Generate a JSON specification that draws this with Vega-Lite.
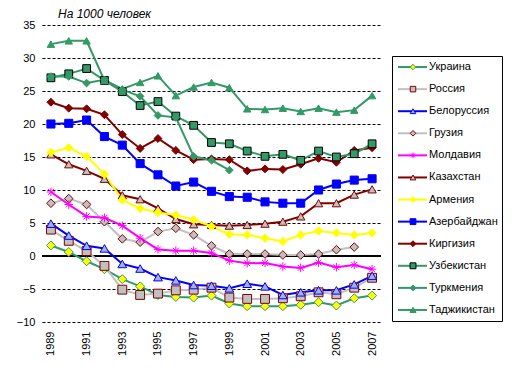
{
  "$schema": "https://vega.github.io/schema/vega-lite/v6.json",
  "background": "white",
  "padding": {"left": 16, "top": 8, "right": 5, "bottom": 5},
  "config": {
    "font": "Liberation Sans",
    "view": {"stroke": null},
    "axis": {"labelFont": "Liberation Sans", "labelFontSize": 11, "labelColor": "black"}
  },
  "spacing": 9,
  "resolve": {"scale": {"x": "independent", "y": "independent", "color": "independent", "shape": "independent", "fill": "independent", "stroke": "independent", "size": "independent"}},
  "datasets": {
    "d": [
      {"s": "Украина", "y": 1989, "v": 1.6}, {"s": "Украина", "y": 1990, "v": 0.6}, {"s": "Украина", "y": 1991, "v": -0.8}, {"s": "Украина", "y": 1992, "v": -2.0}, {"s": "Украина", "y": 1993, "v": -3.5}, {"s": "Украина", "y": 1994, "v": -4.6}, {"s": "Украина", "y": 1995, "v": -5.9}, {"s": "Украина", "y": 1996, "v": -6.2}, {"s": "Украина", "y": 1997, "v": -6.3}, {"s": "Украина", "y": 1998, "v": -6.0}, {"s": "Украина", "y": 1999, "v": -7.2}, {"s": "Украина", "y": 2000, "v": -7.6}, {"s": "Украина", "y": 2001, "v": -7.6}, {"s": "Украина", "y": 2002, "v": -7.6}, {"s": "Украина", "y": 2003, "v": -7.4}, {"s": "Украина", "y": 2004, "v": -7.0}, {"s": "Украина", "y": 2005, "v": -7.5}, {"s": "Украина", "y": 2006, "v": -6.4}, {"s": "Украина", "y": 2007, "v": -6.0},
      {"s": "Россия", "y": 1989, "v": 4.0}, {"s": "Россия", "y": 1990, "v": 2.3}, {"s": "Россия", "y": 1991, "v": 0.75}, {"s": "Россия", "y": 1992, "v": -1.5}, {"s": "Россия", "y": 1993, "v": -5.1}, {"s": "Россия", "y": 1994, "v": -5.9}, {"s": "Россия", "y": 1995, "v": -5.7}, {"s": "Россия", "y": 1996, "v": -5.2}, {"s": "Россия", "y": 1997, "v": -5.1}, {"s": "Россия", "y": 1998, "v": -4.8}, {"s": "Россия", "y": 1999, "v": -6.3}, {"s": "Россия", "y": 2000, "v": -6.5}, {"s": "Россия", "y": 2001, "v": -6.5}, {"s": "Россия", "y": 2002, "v": -6.4}, {"s": "Россия", "y": 2003, "v": -6.1}, {"s": "Россия", "y": 2004, "v": -5.5}, {"s": "Россия", "y": 2005, "v": -5.8}, {"s": "Россия", "y": 2006, "v": -4.8}, {"s": "Россия", "y": 2007, "v": -3.3},
      {"s": "Белоруссия", "y": 1989, "v": 4.9}, {"s": "Белоруссия", "y": 1990, "v": 3.1}, {"s": "Белоруссия", "y": 1991, "v": 1.55}, {"s": "Белоруссия", "y": 1992, "v": 1.15}, {"s": "Белоруссия", "y": 1993, "v": -1.2}, {"s": "Белоруссия", "y": 1994, "v": -1.9}, {"s": "Белоруссия", "y": 1995, "v": -3.2}, {"s": "Белоруссия", "y": 1996, "v": -3.7}, {"s": "Белоруссия", "y": 1997, "v": -4.4}, {"s": "Белоруссия", "y": 1998, "v": -4.5}, {"s": "Белоруссия", "y": 1999, "v": -4.9}, {"s": "Белоруссия", "y": 2000, "v": -4.2}, {"s": "Белоруссия", "y": 2001, "v": -4.6}, {"s": "Белоруссия", "y": 2002, "v": -5.9}, {"s": "Белоруссия", "y": 2003, "v": -5.5}, {"s": "Белоруссия", "y": 2004, "v": -5.2}, {"s": "Белоруссия", "y": 2005, "v": -5.2}, {"s": "Белоруссия", "y": 2006, "v": -4.3}, {"s": "Белоруссия", "y": 2007, "v": -3.0},
      {"s": "Грузия", "y": 1989, "v": 8.0}, {"s": "Грузия", "y": 1990, "v": 8.7}, {"s": "Грузия", "y": 1991, "v": 7.8}, {"s": "Грузия", "y": 1992, "v": 5.2}, {"s": "Грузия", "y": 1993, "v": 2.6}, {"s": "Грузия", "y": 1994, "v": 2.1}, {"s": "Грузия", "y": 1995, "v": 3.7}, {"s": "Грузия", "y": 1996, "v": 4.2}, {"s": "Грузия", "y": 1997, "v": 3.2}, {"s": "Грузия", "y": 1998, "v": 1.55}, {"s": "Грузия", "y": 1999, "v": 0.3}, {"s": "Грузия", "y": 2000, "v": 0.3}, {"s": "Грузия", "y": 2001, "v": 0.3}, {"s": "Грузия", "y": 2002, "v": 0.15}, {"s": "Грузия", "y": 2003, "v": 0.15}, {"s": "Грузия", "y": 2004, "v": 0.3}, {"s": "Грузия", "y": 2005, "v": 0.95}, {"s": "Грузия", "y": 2006, "v": 1.35},
      {"s": "Молдавия", "y": 1989, "v": 9.7}, {"s": "Молдавия", "y": 1990, "v": 7.8}, {"s": "Молдавия", "y": 1991, "v": 6.0}, {"s": "Молдавия", "y": 1992, "v": 5.8}, {"s": "Молдавия", "y": 1993, "v": 4.6}, {"s": "Молдавия", "y": 1994, "v": 2.7}, {"s": "Молдавия", "y": 1995, "v": 1.0}, {"s": "Молдавия", "y": 1996, "v": 0.8}, {"s": "Молдавия", "y": 1997, "v": 0.8}, {"s": "Молдавия", "y": 1998, "v": 0.45}, {"s": "Молдавия", "y": 1999, "v": -0.7}, {"s": "Молдавия", "y": 2000, "v": -1.1}, {"s": "Молдавия", "y": 2001, "v": -1.05}, {"s": "Молдавия", "y": 2002, "v": -1.6}, {"s": "Молдавия", "y": 2003, "v": -1.8}, {"s": "Молдавия", "y": 2004, "v": -1.0}, {"s": "Молдавия", "y": 2005, "v": -1.7}, {"s": "Молдавия", "y": 2006, "v": -1.35}, {"s": "Молдавия", "y": 2007, "v": -2.0},
      {"s": "Казахстан", "y": 1989, "v": 15.4}, {"s": "Казахстан", "y": 1990, "v": 13.9}, {"s": "Казахстан", "y": 1991, "v": 12.9}, {"s": "Казахстан", "y": 1992, "v": 11.7}, {"s": "Казахстан", "y": 1993, "v": 9.2}, {"s": "Казахстан", "y": 1994, "v": 8.6}, {"s": "Казахстан", "y": 1995, "v": 7.2}, {"s": "Казахстан", "y": 1996, "v": 5.6}, {"s": "Казахстан", "y": 1997, "v": 4.8}, {"s": "Казахстан", "y": 1998, "v": 4.7}, {"s": "Казахстан", "y": 1999, "v": 4.6}, {"s": "Казахстан", "y": 2000, "v": 4.7}, {"s": "Казахстан", "y": 2001, "v": 4.9}, {"s": "Казахстан", "y": 2002, "v": 5.2}, {"s": "Казахстан", "y": 2003, "v": 6.0}, {"s": "Казахстан", "y": 2004, "v": 8.0}, {"s": "Казахстан", "y": 2005, "v": 8.0}, {"s": "Казахстан", "y": 2006, "v": 9.3}, {"s": "Казахстан", "y": 2007, "v": 10.1},
      {"s": "Армения", "y": 1989, "v": 15.7}, {"s": "Армения", "y": 1990, "v": 16.4}, {"s": "Армения", "y": 1991, "v": 15.1}, {"s": "Армения", "y": 1992, "v": 12.4}, {"s": "Армения", "y": 1993, "v": 8.5}, {"s": "Армения", "y": 1994, "v": 7.2}, {"s": "Армения", "y": 1995, "v": 6.6}, {"s": "Армения", "y": 1996, "v": 6.2}, {"s": "Армения", "y": 1997, "v": 5.5}, {"s": "Армения", "y": 1998, "v": 4.5}, {"s": "Армения", "y": 1999, "v": 3.3}, {"s": "Армения", "y": 2000, "v": 3.2}, {"s": "Армения", "y": 2001, "v": 2.7}, {"s": "Армения", "y": 2002, "v": 2.2}, {"s": "Армения", "y": 2003, "v": 3.2}, {"s": "Армения", "y": 2004, "v": 3.8}, {"s": "Армения", "y": 2005, "v": 3.5}, {"s": "Армения", "y": 2006, "v": 3.2}, {"s": "Армения", "y": 2007, "v": 3.5},
      {"s": "Азербайджан", "y": 1989, "v": 20.0}, {"s": "Азербайджан", "y": 1990, "v": 20.1}, {"s": "Азербайджан", "y": 1991, "v": 20.6}, {"s": "Азербайджан", "y": 1992, "v": 18.1}, {"s": "Азербайджан", "y": 1993, "v": 16.8}, {"s": "Азербайджан", "y": 1994, "v": 14.0}, {"s": "Азербайджан", "y": 1995, "v": 12.3}, {"s": "Азербайджан", "y": 1996, "v": 10.6}, {"s": "Азербайджан", "y": 1997, "v": 11.2}, {"s": "Азербайджан", "y": 1998, "v": 9.8}, {"s": "Азербайджан", "y": 1999, "v": 9.0}, {"s": "Азербайджан", "y": 2000, "v": 8.9}, {"s": "Азербайджан", "y": 2001, "v": 8.2}, {"s": "Азербайджан", "y": 2002, "v": 8.0}, {"s": "Азербайджан", "y": 2003, "v": 8.0}, {"s": "Азербайджан", "y": 2004, "v": 10.0}, {"s": "Азербайджан", "y": 2005, "v": 10.9}, {"s": "Азербайджан", "y": 2006, "v": 11.5}, {"s": "Азербайджан", "y": 2007, "v": 11.7},
      {"s": "Киргизия", "y": 1989, "v": 23.3}, {"s": "Киргизия", "y": 1990, "v": 22.4}, {"s": "Киргизия", "y": 1991, "v": 22.3}, {"s": "Киргизия", "y": 1992, "v": 21.4}, {"s": "Киргизия", "y": 1993, "v": 18.4}, {"s": "Киргизия", "y": 1994, "v": 16.3}, {"s": "Киргизия", "y": 1995, "v": 17.8}, {"s": "Киргизия", "y": 1996, "v": 16.0}, {"s": "Киргизия", "y": 1997, "v": 14.6}, {"s": "Киргизия", "y": 1998, "v": 14.7}, {"s": "Киргизия", "y": 1999, "v": 14.6}, {"s": "Киргизия", "y": 2000, "v": 12.9}, {"s": "Киргизия", "y": 2001, "v": 13.2}, {"s": "Киргизия", "y": 2002, "v": 13.1}, {"s": "Киргизия", "y": 2003, "v": 13.9}, {"s": "Киргизия", "y": 2004, "v": 14.8}, {"s": "Киргизия", "y": 2005, "v": 14.2}, {"s": "Киргизия", "y": 2006, "v": 16.0}, {"s": "Киргизия", "y": 2007, "v": 16.4},
      {"s": "Узбекистан", "y": 1989, "v": 27.0}, {"s": "Узбекистан", "y": 1990, "v": 27.6}, {"s": "Узбекистан", "y": 1991, "v": 28.4}, {"s": "Узбекистан", "y": 1992, "v": 26.6}, {"s": "Узбекистан", "y": 1993, "v": 24.9}, {"s": "Узбекистан", "y": 1994, "v": 22.8}, {"s": "Узбекистан", "y": 1995, "v": 23.4}, {"s": "Узбекистан", "y": 1996, "v": 21.2}, {"s": "Узбекистан", "y": 1997, "v": 19.8}, {"s": "Узбекистан", "y": 1998, "v": 17.2}, {"s": "Узбекистан", "y": 1999, "v": 17.0}, {"s": "Узбекистан", "y": 2000, "v": 15.9}, {"s": "Узбекистан", "y": 2001, "v": 15.1}, {"s": "Узбекистан", "y": 2002, "v": 15.4}, {"s": "Узбекистан", "y": 2003, "v": 14.5}, {"s": "Узбекистан", "y": 2004, "v": 15.9}, {"s": "Узбекистан", "y": 2005, "v": 15.0}, {"s": "Узбекистан", "y": 2006, "v": 15.5}, {"s": "Узбекистан", "y": 2007, "v": 17.0},
      {"s": "Туркмения", "y": 1989, "v": 27.2}, {"s": "Туркмения", "y": 1990, "v": 27.2}, {"s": "Туркмения", "y": 1991, "v": 26.2}, {"s": "Туркмения", "y": 1992, "v": 26.7}, {"s": "Туркмения", "y": 1993, "v": 25.2}, {"s": "Туркмения", "y": 1994, "v": 24.2}, {"s": "Туркмения", "y": 1995, "v": 21.3}, {"s": "Туркмения", "y": 1996, "v": 21.0}, {"s": "Туркмения", "y": 1997, "v": 15.1}, {"s": "Туркмения", "y": 1998, "v": 14.5}, {"s": "Туркмения", "y": 1999, "v": 13.0},
      {"s": "Таджикистан", "y": 1989, "v": 32.1}, {"s": "Таджикистан", "y": 1990, "v": 32.6}, {"s": "Таджикистан", "y": 1991, "v": 32.6}, {"s": "Таджикистан", "y": 1992, "v": 26.6}, {"s": "Таджикистан", "y": 1993, "v": 25.3}, {"s": "Таджикистан", "y": 1994, "v": 26.3}, {"s": "Таджикистан", "y": 1995, "v": 27.3}, {"s": "Таджикистан", "y": 1996, "v": 24.3}, {"s": "Таджикистан", "y": 1997, "v": 25.6}, {"s": "Таджикистан", "y": 1998, "v": 26.3}, {"s": "Таджикистан", "y": 1999, "v": 25.5}, {"s": "Таджикистан", "y": 2000, "v": 22.3}, {"s": "Таджикистан", "y": 2001, "v": 22.2}, {"s": "Таджикистан", "y": 2002, "v": 22.4}, {"s": "Таджикистан", "y": 2003, "v": 21.9}, {"s": "Таджикистан", "y": 2004, "v": 22.4}, {"s": "Таджикистан", "y": 2005, "v": 21.8}, {"s": "Таджикистан", "y": 2006, "v": 22.1}, {"s": "Таджикистан", "y": 2007, "v": 24.3}
    ],
    "names": [
      {"s": "Украина"}, {"s": "Россия"}, {"s": "Белоруссия"}, {"s": "Грузия"}, {"s": "Молдавия"}, {"s": "Казахстан"}, {"s": "Армения"}, {"s": "Азербайджан"}, {"s": "Киргизия"}, {"s": "Узбекистан"}, {"s": "Туркмения"}, {"s": "Таджикистан"}
    ]
  },
  "hconcat": [
    {
      "width": 339,
      "height": 297,
      "data": {"name": "d"},
      "title": {"text": "На 1000 человек", "font": "Liberation Sans", "fontSize": 12, "fontStyle": "italic", "fontWeight": "normal", "anchor": "start", "frame": "group", "dx": 16, "offset": -2, "color": "black"},
      "encoding": {
        "x": {"field": "y", "type": "ordinal", "scale": {"type": "point", "padding": 0.5}, "axis": {"values": [1989, 1991, 1993, 1995, 1997, 1999, 2001, 2003, 2005, 2007], "labelAngle": 270, "domain": false, "ticks": false, "tickSize": 0, "grid": false, "labelPadding": 9, "title": null}},
        "y": {"field": "v", "type": "quantitative", "scale": {"domain": [-10, 35], "nice": false, "zero": false}, "axis": {"values": [-10, -5, 0, 5, 10, 15, 20, 25, 30, 35], "domain": false, "ticks": false, "tickSize": 0, "grid": true, "gridColor": "black", "gridDash": [3, 2], "gridWidth": 1, "labelPadding": 7, "title": null}}
      },
      "layer": [
        {"mark": {"type": "rule", "color": "black", "strokeWidth": 2}, "encoding": {"y": {"datum": 0}, "x": null}},
        {
          "mark": {"type": "line", "strokeWidth": 2},
          "encoding": {
            "color": {"field": "s", "type": "nominal", "legend": null, "sort": null,
              "scale": {"domain": ["Украина", "Россия", "Белоруссия", "Грузия", "Молдавия", "Казахстан", "Армения", "Азербайджан", "Киргизия", "Узбекистан", "Туркмения", "Таджикистан"],
                "range": ["#339966", "#C0C0C0", "#0000FF", "#C0C0C0", "#FF00FF", "#800000", "#FFFF00", "#0000FF", "#800000", "#339966", "#339966", "#339966"]}}
          }
        },
        {
          "mark": {"type": "point", "filled": true, "opacity": 1, "strokeWidth": 1, "strokeOpacity": 1},
          "encoding": {
            "shape": {"field": "s", "type": "nominal", "legend": null,
              "scale": {"domain": ["Украина", "Россия", "Белоруссия", "Грузия", "Молдавия", "Казахстан", "Армения", "Азербайджан", "Киргизия", "Узбекистан", "Туркмения", "Таджикистан"],
                "range": ["diamond", "square", "triangle-up", "diamond", "M-1,0L1,0M0,-1L0,1M-0.7,-0.7L0.7,0.7M-0.7,0.7L0.7,-0.7", "triangle-up", "diamond", "square", "diamond", "square", "diamond", "triangle-up"]}},
            "fill": {"field": "s", "type": "nominal", "legend": null,
              "scale": {"domain": ["Украина", "Россия", "Белоруссия", "Грузия", "Молдавия", "Казахстан", "Армения", "Азербайджан", "Киргизия", "Узбекистан", "Туркмения", "Таджикистан"],
                "range": ["#FFFF00", "#C0C0C0", "#A6B0D8", "#C0C0C0", "transparent", "#C0C0C0", "#FFFF00", "#0000FF", "#800000", "#339966", "#339966", "#339966"]}},
            "stroke": {"field": "s", "type": "nominal", "legend": null,
              "scale": {"domain": ["Украина", "Россия", "Белоруссия", "Грузия", "Молдавия", "Казахстан", "Армения", "Азербайджан", "Киргизия", "Узбекистан", "Туркмения", "Таджикистан"],
                "range": ["#339966", "#800000", "#0000FF", "#800000", "#FF00FF", "#800000", "#FFFF00", "#0000FF", "#800000", "#000000", "#339966", "#339966"]}},
            "size": {"field": "s", "type": "nominal", "legend": null,
              "scale": {"domain": ["Украина", "Россия", "Белоруссия", "Грузия", "Молдавия", "Казахстан", "Армения", "Азербайджан", "Киргизия", "Узбекистан", "Туркмения", "Таджикистан"],
                "range": [81, 56, 50, 90, 100, 50, 36, 100, 36, 36, 36, 50]}}
          }
        }
      ]
    },
    {
      "spacing": 10,
      "vconcat": [
        {
          "width": 110,
          "height": 20,
          "data": {"values": []},
          "mark": {"type": "point", "opacity": 0}
        },
        {
          "width": 110,
          "height": 265,
          "data": {"name": "names"},
          "view": {"stroke": "black", "strokeWidth": 1},
          "encoding": {
            "y": {"field": "s", "type": "nominal", "sort": null, "axis": null,
              "scale": {"type": "point", "padding": 0.5, "domain": ["Украина", "Россия", "Белоруссия", "Грузия", "Молдавия", "Казахстан", "Армения", "Азербайджан", "Киргизия", "Узбекистан", "Туркмения", "Таджикистан"]}}
          },
          "layer": [
            {
              "mark": {"type": "rule", "strokeWidth": 2},
              "encoding": {
                "x": {"datum": 6, "scale": {"domain": [0, 110], "nice": false, "zero": false}, "axis": null},
                "x2": {"datum": 35},
                "color": {"field": "s", "type": "nominal", "legend": null,
                  "scale": {"domain": ["Украина", "Россия", "Белоруссия", "Грузия", "Молдавия", "Казахстан", "Армения", "Азербайджан", "Киргизия", "Узбекистан", "Туркмения", "Таджикистан"],
                    "range": ["#339966", "#C0C0C0", "#0000FF", "#C0C0C0", "#FF00FF", "#800000", "#FFFF00", "#0000FF", "#800000", "#339966", "#339966", "#339966"]}}
              }
            },
            {
              "mark": {"type": "point", "filled": true, "opacity": 1, "strokeWidth": 1, "strokeOpacity": 1},
              "encoding": {
                "x": {"datum": 21},
                "shape": {"field": "s", "type": "nominal", "legend": null,
                  "scale": {"domain": ["Украина", "Россия", "Белоруссия", "Грузия", "Молдавия", "Казахстан", "Армения", "Азербайджан", "Киргизия", "Узбекистан", "Туркмения", "Таджикистан"],
                    "range": ["diamond", "square", "triangle-up", "diamond", "M-1,0L1,0M0,-1L0,1M-0.7,-0.7L0.7,0.7M-0.7,0.7L0.7,-0.7", "triangle-up", "diamond", "square", "diamond", "square", "diamond", "triangle-up"]}},
                "fill": {"field": "s", "type": "nominal", "legend": null,
                  "scale": {"domain": ["Украина", "Россия", "Белоруссия", "Грузия", "Молдавия", "Казахстан", "Армения", "Азербайджан", "Киргизия", "Узбекистан", "Туркмения", "Таджикистан"],
                    "range": ["#FFFF00", "#C0C0C0", "#A6B0D8", "#C0C0C0", "transparent", "#C0C0C0", "#FFFF00", "#0000FF", "#800000", "#339966", "#339966", "#339966"]}},
                "stroke": {"field": "s", "type": "nominal", "legend": null,
                  "scale": {"domain": ["Украина", "Россия", "Белоруссия", "Грузия", "Молдавия", "Казахстан", "Армения", "Азербайджан", "Киргизия", "Узбекистан", "Туркмения", "Таджикистан"],
                    "range": ["#339966", "#800000", "#0000FF", "#800000", "#FF00FF", "#800000", "#FFFF00", "#0000FF", "#800000", "#000000", "#339966", "#339966"]}},
                "size": {"field": "s", "type": "nominal", "legend": null,
                  "scale": {"domain": ["Украина", "Россия", "Белоруссия", "Грузия", "Молдавия", "Казахстан", "Армения", "Азербайджан", "Киргизия", "Узбекистан", "Туркмения", "Таджикистан"],
                    "range": [30, 36, 40, 40, 50, 40, 25, 121, 30, 36, 30, 45]}}
              }
            },
            {
              "mark": {"type": "text", "align": "left", "baseline": "middle", "fontSize": 11, "font": "Liberation Sans", "color": "black"},
              "encoding": {
                "x": {"datum": 37},
                "text": {"field": "s", "type": "nominal"}
              }
            }
          ]
        }
      ]
    }
  ]
}
